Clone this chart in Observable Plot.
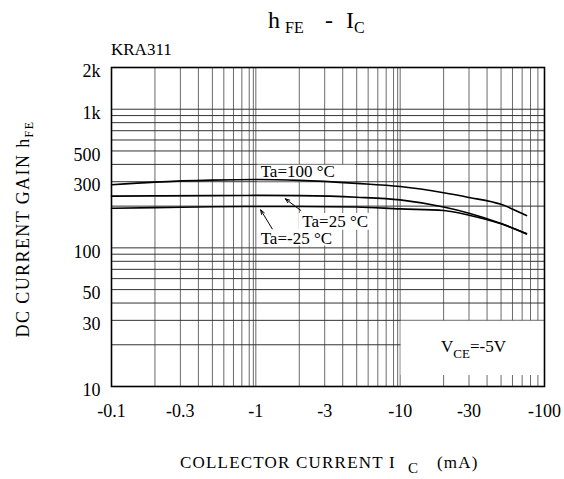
<!DOCTYPE html>
<html><head><meta charset="utf-8">
<script src="https://cdn.jsdelivr.net/npm/d3@7"></script>
<script src="https://cdn.jsdelivr.net/npm/@observablehq/plot@0.6"></script>
<style>
body{margin:0;background:#fff}
svg{font-family:"Liberation Serif","Times New Roman",serif}
</style>
</head><body><div id="chart"></div>
<script>
// ---- data ----
const current  = [0.1, 0.2, 0.5, 1, 2, 5, 10, 20, 30, 50, 75];     // -mA
const gain100  = [285, 298, 308, 311, 307, 292, 277, 250, 231, 206, 171];
const gain25   = [236, 237, 238, 239, 238, 232, 222, 197, 178, 150, 126];
const gainM25  = [193, 195, 198, 199, 199, 197, 191, 186, 172, 149, 127];
const seriesNames = ["Ta=100 °C", "Ta=25 °C", "Ta=-25 °C"];
const xTicks = [0.1, 0.3, 1, 3, 10, 30, 100];
const xTickLabels = ["-0.1", "-0.3", "-1", "-3", "-10", "-30", "-100"];
const yTicks = [10, 30, 50, 100, 300, 500, 1000, 2000];
const yTickLabels = ["10", "30", "50", "100", "300", "500", "1k", "2k"];
const xGrid = [0.1,0.2,0.3,0.4,0.5,0.6,0.7,0.8,0.9,1,2,3,4,5,6,7,8,9,10,20,30,40,50,60,70,80,90,100];
const xGridDouble = [1, 10];
const yGrid = [10,20,30,40,50,60,70,80,90,100,200,300,400,500,600,700,800,900,1000];

// annotation anchors (data units)
const labelX = [1.08, 2.1, 1.08];
const labelY = [356, 154, 117];
const masks = [
  {x1: 1.03, x2: 4.9, y1: 300, y2: 395},
  {x1: 2.0, x2: 6.2, y1: 134, y2: 177},
  {x1: 1.03, x2: 3.6, y1: 103, y2: 136},
  {x1: 10.15, x2: 100, y1: 12, y2: 29.6}
];
const arrows = [
  {x1: 2.05, y1: 186, x2: 1.6, y2: 226},
  {x1: 1.30, y1: 137, x2: 1.08, y2: 188}
];

const rows = [];
[gain100, gain25, gainM25].forEach((g, s) =>
  current.forEach((c, i) => rows.push({series: seriesNames[s], x: c, y: g[i]})));
const labels = seriesNames.map((t, i) => ({t, x: labelX[i], y: labelY[i]}));
const xLab = xTicks.map((v, i) => ({v, t: xTickLabels[i]}));
const yLab = yTicks.map((v, i) => ({v, t: yTickLabels[i]}));

const chart = Plot.plot({
  width: 564, height: 479,
  marginLeft: 111, marginRight: 20, marginTop: 67, marginBottom: 93,
  style: {background: "white", color: "black", fontFamily: "'Liberation Serif','Times New Roman',serif"},
  x: {type: "log", domain: [0.1, 100], axis: null},
  y: {type: "log", domain: [10, 2000], axis: null},
  marks: [
    Plot.ruleX(xGrid, {stroke: "#6a6a6a", strokeWidth: 1}),
    Plot.ruleX(xGridDouble, {dx: -2.5, stroke: "#6a6a6a", strokeWidth: 1}),
    Plot.ruleY(yGrid, {stroke: "#333", strokeWidth: 1}),
    Plot.rect(masks, {x1: "x1", x2: "x2", y1: "y1", y2: "y2", fill: "white"}),
    Plot.line(rows, {x: "x", y: "y", z: "series", stroke: "black", strokeWidth: 1.6, curve: "monotone-x"}),
    Plot.arrow(arrows, {x1: "x1", y1: "y1", x2: "x2", y2: "y2", stroke: "black", strokeWidth: 1, headLength: 7, headAngle: 40}),
    Plot.text(labels, {x: "x", y: "y", text: "t", textAnchor: "start", fontSize: 17, fill: "black"}),
    Plot.frame({stroke: "black", strokeWidth: 1.6}),
    Plot.text(xLab, {x: "v", text: "t", frameAnchor: "bottom", dy: 25, lineAnchor: "middle", fontSize: 18, fill: "black"}),
    Plot.text(yLab, {y: "v", text: "t", frameAnchor: "left", dx: -11, dy: 4, textAnchor: "end", lineAnchor: "middle", fontSize: 18, fill: "black"})
  ]
});
document.getElementById("chart").appendChild(chart);

const svg = d3.select(chart);

// title  h_FE - I_C
const title = svg.append("text").attr("y", 28).attr("font-size", 24).attr("fill", "black").attr("text-anchor", "start");
title.append("tspan").attr("x", 268).text("h");
title.append("tspan").attr("x", 285).attr("font-size", 16).attr("dy", 5).text("FE");
title.append("tspan").attr("x", 325).attr("dy", -5).text("-");
title.append("tspan").attr("x", 346).text("I");
title.append("tspan").attr("font-size", 16).attr("dy", 5).text("C");

svg.append("text").attr("x", 111).attr("y", 55).attr("font-size", 17).attr("fill", "black")
  .attr("text-anchor", "start").text("KRA311");

// V_CE = -5V
const v = svg.append("text").attr("y", 352).attr("font-size", 17).attr("fill", "black").attr("text-anchor", "start");
v.append("tspan").attr("x", 441).text("V");
v.append("tspan").attr("font-size", 13).attr("dy", 6).text("CE");
v.append("tspan").attr("dy", -6).text("=-5V");

// y title
const yt = svg.append("text").attr("transform", "translate(29,229) rotate(-90)")
  .attr("text-anchor", "middle").attr("font-size", 18).attr("fill", "black")
  .style("letter-spacing", "1.4px");
yt.append("tspan").text("DC CURRENT GAIN h");
yt.append("tspan").attr("font-size", 12).attr("dy", 4).text("FE");

// x title
const xt = svg.append("text").attr("y", 468).attr("font-size", 17).attr("fill", "black")
  .attr("text-anchor", "start").style("letter-spacing", "1.2px");
xt.append("tspan").attr("x", 180).text("COLLECTOR CURRENT I");
xt.append("tspan").attr("x", 408).attr("dy", 5).attr("font-size", 15).text("C");
xt.append("tspan").attr("x", 437).attr("dy", -5).text("(mA)");
</script>
</body></html>
